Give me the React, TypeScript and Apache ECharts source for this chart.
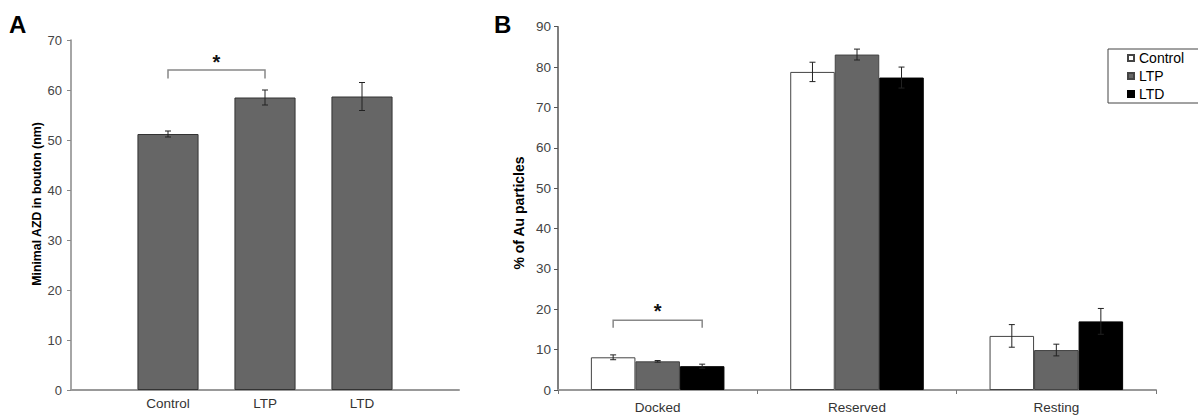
import React, { useEffect, useRef } from 'react';
import * as echarts from 'echarts';

// ---------- Panel A data ----------
const categoriesA = ['', 'Control', 'LTP', 'LTD', ''];
const valuesA: (number | null)[] = [null, 51.2, 58.5, 58.7, null];
const errorsA: (number | null)[] = [null, 0.6, 1.5, 2.8, null];
const yTitleA = 'Minimal AZD in bouton (nm)';
// significance bracket: from category index to category index, top value, leg end value
const sigA = { from: 1, to: 2, top: 64, end: 62.3, label: '*' };

// ---------- Panel B data ----------
const categoriesB = ['Docked', 'Reserved', 'Resting'];
const groupNames = ['Control', 'LTP', 'LTD'];
const controlB = [8.1, 78.8, 13.4];
const ltpB = [7.1, 83.1, 9.9];
const ltdB = [5.9, 77.4, 17.0];
const controlErrB = [0.6, 2.4, 2.8];
const ltpErrB = [0.2, 1.35, 1.45];
const ltdErrB = [0.5, 2.6, 3.2];
const yTitleB = '% of Au particles';
const sigB = { cat: 0, fromSeries: 0, toSeries: 2, top: 17.3, end: 15.4, label: '*' };

const FONT = 'Arial, "Liberation Sans", sans-serif';
const BAR_CAT_GAP_B = 0.33;
const BAR_CAT_GAP_A = 0.37;

const valuesB = [controlB, ltpB, ltdB];
const errorsB = [controlErrB, ltpErrB, ltdErrB];
const fillB = ['#ffffff', '#666666', '#000000'];
const borderB = ['#444444', '#444444', '#000000'];

function errorBarShape(x: number, yTop: number, yBot: number, cap: number) {
  return {
    type: 'group',
    children: [
      { type: 'line', shape: { x1: x, y1: yTop, x2: x, y2: yBot }, style: { stroke: '#222', lineWidth: 1 } },
      { type: 'line', shape: { x1: x - cap, y1: yTop, x2: x + cap, y2: yTop }, style: { stroke: '#222', lineWidth: 1 } },
      { type: 'line', shape: { x1: x - cap, y1: yBot, x2: x + cap, y2: yBot }, style: { stroke: '#222', lineWidth: 1 } },
    ],
  };
}

export default function App() {
  const ref = useRef<HTMLDivElement>(null);
  useEffect(() => {
    if (!ref.current) return;
    const chart = echarts.init(ref.current, null, { renderer: 'svg' });

    const errDataA = categoriesA
      .map((_, i) => (valuesA[i] == null ? null : [i, valuesA[i], errorsA[i]]))
      .filter((d) => d != null);

    const errDataB: number[][] = [];
    valuesB.forEach((vals, s) => {
      vals.forEach((v, c) => errDataB.push([c, v, errorsB[s][c], s]));
    });

    const option: any = {
      animation: false,
      backgroundColor: '#ffffff',
      textStyle: { fontFamily: FONT },
      grid: [
        { left: 71, top: 40, width: 388, bottom: 27 },
        { left: 558, top: 26.7, right: 42, bottom: 27 },
      ],
      xAxis: [
        {
          type: 'category',
          gridIndex: 0,
          data: categoriesA,
          boundaryGap: false,
          axisLine: { lineStyle: { color: '#999', width: 2 } },
          axisTick: { show: false },
          axisLabel: { interval: 0, fontSize: 13.5, color: '#333', margin: 6, fontFamily: FONT },
        },
        {
          type: 'category',
          gridIndex: 1,
          data: categoriesB,
          axisLine: { lineStyle: { color: '#999', width: 2 } },
          axisTick: { show: true, length: 4, interval: 0, lineStyle: { color: '#777' } },
          axisLabel: { interval: 0, fontSize: 13.5, color: '#333', margin: 10, fontFamily: FONT },
        },
      ],
      yAxis: [
        {
          type: 'value',
          gridIndex: 0,
          min: 0,
          max: 70,
          interval: 10,
          splitLine: { show: false },
          axisLine: { show: true, lineStyle: { color: '#888', width: 1.5 } },
          axisTick: { show: true, length: 4, lineStyle: { color: '#888' } },
          axisLabel: { fontSize: 13, color: '#444', margin: 9, fontFamily: FONT },
        },
        {
          type: 'value',
          gridIndex: 1,
          min: 0,
          max: 90,
          interval: 10,
          splitLine: { show: false },
          axisLine: { show: true, lineStyle: { color: '#555', width: 1.5 } },
          axisTick: { show: true, length: 4, lineStyle: { color: '#555' } },
          axisLabel: { fontSize: 13.5, color: '#444', margin: 7, fontFamily: FONT },
        },
      ],
      legend: {
        data: groupNames,
        orient: 'vertical',
        left: 1108,
        top: 49,
        padding: [1, 20, 1, 19],
        itemGap: 2,
        itemWidth: 6,
        itemHeight: 6,
        icon: 'rect',
        borderColor: '#444',
        borderWidth: 1,
        textStyle: { fontSize: 14, color: '#000', lineHeight: 16, fontFamily: FONT },
      },
      series: [
        {
          name: 'Minimal AZD',
          type: 'bar',
          xAxisIndex: 0,
          yAxisIndex: 0,
          data: valuesA.map((v) => (v == null ? '-' : v)),
          barCategoryGap: `${BAR_CAT_GAP_A * 100}%`,
          itemStyle: { color: '#666666', borderColor: '#333', borderWidth: 1 },
        },
        ...groupNames.map((name, s) => ({
          name,
          type: 'bar',
          xAxisIndex: 1,
          yAxisIndex: 1,
          data: valuesB[s],
          barGap: '0%',
          barCategoryGap: `${BAR_CAT_GAP_B * 100}%`,
          itemStyle: { color: fillB[s], borderColor: borderB[s], borderWidth: 1 },
        })),
        {
          type: 'custom',
          name: 'errA',
          xAxisIndex: 0,
          yAxisIndex: 0,
          z: 10,
          silent: true,
          data: errDataA,
          renderItem: (_p: any, api: any) => {
            const c = api.value(0);
            const v = api.value(1);
            const e = api.value(2);
            const top = api.coord([c, v + e]);
            const bot = api.coord([c, v - e]);
            return errorBarShape(top[0], top[1], bot[1], 3);
          },
        },
        {
          type: 'custom',
          name: 'errB',
          xAxisIndex: 1,
          yAxisIndex: 1,
          z: 10,
          silent: true,
          data: errDataB,
          renderItem: (_p: any, api: any) => {
            const c = api.value(0);
            const v = api.value(1);
            const e = api.value(2);
            const s = api.value(3);
            const band = api.size([1, 0])[0];
            const bw = (band * (1 - BAR_CAT_GAP_B)) / 3;
            const top = api.coord([c, v + e]);
            const bot = api.coord([c, v - e]);
            const x = top[0] + (s - 1) * bw;
            return errorBarShape(x, top[1], bot[1], 3);
          },
        },
        {
          type: 'custom',
          name: 'sigA',
          xAxisIndex: 0,
          yAxisIndex: 0,
          z: 10,
          silent: true,
          data: [[sigA.from, sigA.to, sigA.top, sigA.end]],
          renderItem: (_p: any, api: any) => {
            const p1 = api.coord([api.value(0), api.value(2)]);
            const p2 = api.coord([api.value(1), api.value(2)]);
            const e1 = api.coord([api.value(0), api.value(3)]);
            return {
              type: 'group',
              children: [
                {
                  type: 'polyline',
                  shape: { points: [[p1[0], e1[1]], [p1[0], p1[1]], [p2[0], p2[1]], [p2[0], e1[1]]] },
                  style: { stroke: '#888', lineWidth: 1.5, fill: null },
                },
                {
                  type: 'text',
                  x: (p1[0] + p2[0]) / 2,
                  y: p1[1] + 2,
                  style: { text: sigA.label, font: `bold 20px ${FONT}`, fill: '#111', align: 'center', verticalAlign: 'bottom' },
                },
              ],
            };
          },
        },
        {
          type: 'custom',
          name: 'sigB',
          xAxisIndex: 1,
          yAxisIndex: 1,
          z: 10,
          silent: true,
          data: [[sigB.cat, sigB.fromSeries, sigB.toSeries, sigB.top, sigB.end]],
          renderItem: (_p: any, api: any) => {
            const band = api.size([1, 0])[0];
            const bw = (band * (1 - BAR_CAT_GAP_B)) / 3;
            const c = api.coord([api.value(0), api.value(3)]);
            const e = api.coord([api.value(0), api.value(4)]);
            const x1 = c[0] + (api.value(1) - 1) * bw;
            const x2 = c[0] + (api.value(2) - 1) * bw;
            return {
              type: 'group',
              children: [
                {
                  type: 'polyline',
                  shape: { points: [[x1, e[1]], [x1, c[1]], [x2, c[1]], [x2, e[1]]] },
                  style: { stroke: '#888', lineWidth: 1.5, fill: null },
                },
                {
                  type: 'text',
                  x: (x1 + x2) / 2,
                  y: c[1] + 1,
                  style: { text: sigB.label, font: `bold 20px ${FONT}`, fill: '#111', align: 'center', verticalAlign: 'bottom' },
                },
              ],
            };
          },
        },
      ],
      graphic: [
        { type: 'text', left: 9, top: 12, style: { text: 'A', font: `bold 24px ${FONT}`, fill: '#000' } },
        { type: 'text', left: 494, top: 12, style: { text: 'B', font: `bold 24px ${FONT}`, fill: '#000' } },
        {
          type: 'text',
          x: 37,
          y: 204,
          rotation: Math.PI / 2,
          style: { text: yTitleA, font: `bold 12.3px ${FONT}`, fill: '#000', align: 'center', verticalAlign: 'middle' },
        },
        {
          type: 'text',
          x: 519,
          y: 213,
          rotation: Math.PI / 2,
          style: { text: yTitleB, font: `bold 14px ${FONT}`, fill: '#000', align: 'center', verticalAlign: 'middle' },
        },
      ],
    };
    chart.setOption(option);
    return () => chart.dispose();
  }, []);
  return <div ref={ref} style={{ position: 'absolute', left: 0, top: 0, width: 1198, height: 417 }} />;
}
